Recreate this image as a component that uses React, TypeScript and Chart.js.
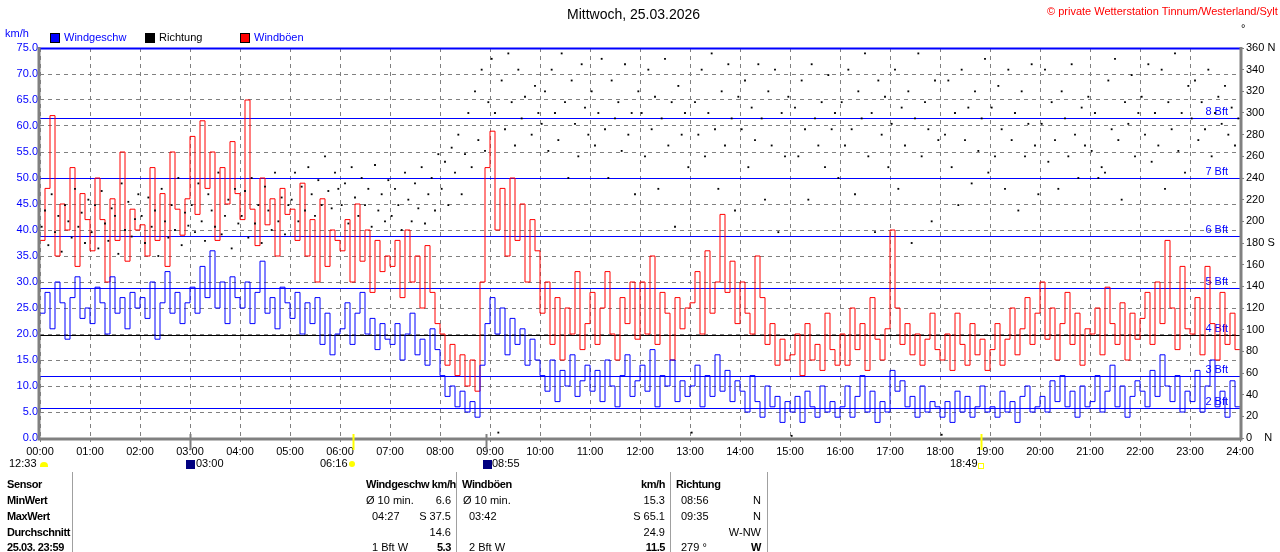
import React, { useEffect, useRef } from "react";
import { Chart, registerables } from "chart.js";
Chart.register(...registerables);

const hourLabels = ["00:00","01:00","02:00","03:00","04:00","05:00","06:00","07:00","08:00","09:00","10:00","11:00","12:00","13:00","14:00","15:00","16:00","17:00","18:00","19:00","20:00","21:00","22:00","23:00","24:00"];

// 10 values per hour (6 min steps)
const windSpeed = [
24,28,21,30,26,19,27,31,23,25, 22,29,26,20,31,24,27,21,28,25, 27,23,30,19,26,32,24,28,22,26,
29,24,33,27,36,25,30,22,31,27, 25,30,22,28,34,24,27,21,29,26, 23,28,20,26,22,27,18,24,16,20,
21,26,18,24,28,20,23,17,22,19, 18,22,15,20,24,16,19,14,21,17, 12,8,10,6,9,5,7,4,14,22,
27,20,25,16,23,18,21,14,19,15, 12,9,15,7,13,10,16,8,11,14, 9,13,7,15,10,6,12,16,8,11,
14,9,17,6,12,10,15,7,11,8, 10,14,6,12,8,16,9,13,7,11, 9,5,12,7,4,10,6,8,3,7,
5,8,3,9,6,4,10,5,7,4, 6,10,4,8,12,5,9,3,7,5, 13,9,11,6,8,4,10,5,7,6,
4,7,3,9,5,8,4,6,10,5, 6,4,9,5,7,3,8,10,5,6, 8,5,11,7,12,6,9,4,10,6,
7,12,5,9,14,6,10,4,8,11, 9,6,13,8,16,10,7,12,5,9, 7,13,5,10,15,6,9,4,11,6];

const windGusts = [
38,48,62,35,45,40,52,33,47,42, 36,50,42,30,46,38,55,34,44,40, 41,35,52,38,47,33,55,44,39,46,
58,43,61,48,55,38,52,45,57,47, 42,65,44,37,50,41,46,35,48,43, 44,38,49,35,42,30,46,33,40,38,
36,42,30,45,34,40,28,38,32,35, 33,38,27,40,30,35,25,37,28,22, 20,14,18,12,16,10,15,9,30,52,
59,40,48,35,50,38,45,30,42,36, 24,30,18,27,15,25,20,32,17,22, 28,18,25,32,20,15,27,22,30,19,
30,20,35,18,28,24,15,27,21,25, 26,32,20,36,24,30,43,28,34,22, 30,24,20,35,27,18,22,14,19,15,
16,20,12,22,15,18,13,24,17,14, 20,14,25,17,22,13,27,19,15,21, 40,25,18,22,16,20,14,19,24,17,
15,20,13,24,18,14,22,16,19,13, 17,22,14,19,25,16,21,27,18,24, 30,19,25,15,22,28,18,24,14,21,
20,25,16,29,22,18,26,15,24,19, 23,28,18,30,22,38,25,17,33,21, 20,27,16,33,22,15,28,18,24,17];

// 15 values per hour (4 min steps), degrees
const direction = [
195,210,178,225,190,205,172,215,200,185,230,195,208,180,220,
190,215,175,228,198,182,212,205,170,235,192,218,186,202,225,
205,180,222,195,210,168,230,200,185,215,192,240,178,208,196,
215,190,235,200,182,225,210,195,245,188,205,220,175,230,198,
205,228,185,240,198,215,180,232,210,192,245,200,222,188,215,
220,245,200,232,210,250,225,205,238,215,260,228,212,245,230,
215,235,198,250,222,205,240,215,230,195,252,210,225,200,238,
205,230,215,192,245,220,200,235,212,250,198,225,240,210,262,
230,255,215,268,245,280,225,262,300,250,320,275,340,265,310,
350,300,5,330,285,355,310,270,340,295,315,360,280,325,300,
290,320,265,340,300,275,355,310,240,330,290,260,345,305,280,
320,270,300,350,285,240,330,295,310,265,345,280,300,225,320,
300,260,340,285,315,230,295,350,270,310,195,325,280,300,250,
5,310,280,340,260,300,355,285,230,320,270,345,295,210,315,
285,330,250,305,275,345,295,220,320,270,340,190,300,260,315,
2,305,260,330,285,220,345,295,270,310,250,335,285,300,240,
310,270,340,285,225,320,295,355,260,300,190,330,280,315,250,
290,340,230,305,270,320,180,295,355,260,310,285,200,330,275,
3,280,330,250,300,215,340,275,305,235,320,265,295,350,245,
305,260,325,285,230,340,275,300,210,320,260,290,345,270,225,
290,340,255,310,275,230,320,295,260,345,280,240,305,270,315,
265,300,240,250,245,330,285,350,275,220,310,290,335,260,300,
315,280,345,255,300,270,340,230,310,285,355,265,300,245,325,
295,330,275,310,285,340,260,300,315,290,325,280,305,270,295];

const bftLevels = [5.8, 12, 19.8, 28.8, 38.8, 50, 61.5];
const bftNames = ["2 Bft","3 Bft","4 Bft","5 Bft","6 Bft","7 Bft","8 Bft"];

const FONT = "'Liberation Sans', Arial, sans-serif";

const bftPlugin = {
  id: "bft",
  beforeDatasetsDraw(chart: any) {
    const { ctx, chartArea: a, scales } = chart;
    const y = scales.y;
    ctx.save();
    ctx.font = `11px ${FONT}`;
    ctx.textAlign = "right";
    bftLevels.forEach((v, i) => {
      const py = Math.round(y.getPixelForValue(v)) + 0.5;
      ctx.strokeStyle = i === 2 ? "#000000" : "#0000ff";
      ctx.lineWidth = 1;
      ctx.beginPath(); ctx.moveTo(a.left, py); ctx.lineTo(a.right, py); ctx.stroke();
      ctx.fillStyle = "#0000ff";
      ctx.fillText(bftNames[i], a.right - 12, py - 4);
    });
    ctx.restore();
  },
  afterDraw(chart: any) {
    const { ctx, chartArea: a } = chart;
    ctx.save();
    ctx.strokeStyle = "#0000ff"; ctx.lineWidth = 2;
    ctx.beginPath(); ctx.moveTo(a.left, a.top + 0.5); ctx.lineTo(a.right, a.top + 0.5); ctx.stroke();
    ctx.strokeStyle = "#808080"; ctx.lineWidth = 3;
    ctx.beginPath(); ctx.moveTo(a.left - 1, a.top - 1); ctx.lineTo(a.left - 1, a.bottom + 1); ctx.lineTo(a.right + 1, a.bottom + 1); ctx.lineTo(a.right + 1, a.top - 1); ctx.stroke();
    const x = chart.scales.x;
    const mark = (m: number, color: string) => {
      const px = Math.round(x.getPixelForValue(m)) + 0.5;
      ctx.strokeStyle = color; ctx.lineWidth = 2;
      ctx.beginPath(); ctx.moveTo(px, a.bottom - 4); ctx.lineTo(px, a.bottom + 12); ctx.stroke();
    };
    mark(376, "#ffff00"); mark(1129, "#ffff00"); mark(180, "#808080"); mark(535, "#808080");
    ctx.restore();
  },
};

const txt = (s: string, left: number, top: number, extra: any = {}) => (
  <div style={{ position: "absolute", left, top, whiteSpace: "nowrap", ...extra }}>{s}</div>
);
const rt = (s: string, right: number, top: number, extra: any = {}) => (
  <div style={{ position: "absolute", left: right - 200, width: 200, top, textAlign: "right", whiteSpace: "nowrap", ...extra }}>{s}</div>
);

export default function App() {
  const ref = useRef<HTMLCanvasElement>(null);
  useEffect(() => {
    document.body.style.margin = "0";
    const windPts = windSpeed.map((v, i) => ({ x: i * 6, y: v }));
    windPts.push({ x: 1440, y: windSpeed[windSpeed.length - 1] });
    const gustPts = windGusts.map((v, i) => ({ x: i * 6, y: v }));
    gustPts.push({ x: 1440, y: windGusts[windGusts.length - 1] });
    const dirPts = direction.map((v, i) => ({ x: i * 4 + 2, y: v }));
    const chart = new Chart(ref.current!, {
      type: "line",
      data: {
        datasets: [
          { data: dirPts, yAxisID: "y2", showLine: false, pointRadius: 1.3, pointStyle: "rect", backgroundColor: "#000", borderColor: "#000", borderWidth: 0, order: 1 } as any,
          { data: windPts, yAxisID: "y", stepped: true, borderColor: "#0000ff", borderWidth: 1, pointRadius: 0, order: 2 } as any,
          { data: gustPts, yAxisID: "y", stepped: true, borderColor: "#ff0000", borderWidth: 1, pointRadius: 0, order: 3 } as any,
        ],
      },
      options: {
        animation: false,
        responsive: false,
        layout: { padding: { top: 48, left: 0, right: 0, bottom: 0 } },
        plugins: { legend: { display: false }, tooltip: { enabled: false } },
        scales: {
          x: {
            type: "linear", min: 0, max: 1440,
            afterFit: (s: any) => { s.height = 114; },
            ticks: { stepSize: 60, autoSkip: false, maxRotation: 0, color: "#000", font: { size: 11, family: FONT }, padding: 3,
              callback: (v: any) => hourLabels[Math.round(v / 60)] },
            grid: { color: "#808080", lineWidth: 1, tickLength: 4 },
            border: { display: false, dash: [4, 4] },
          },
          y: {
            position: "left", min: 0, max: 75,
            afterFit: (s: any) => { s.width = 40; },
            ticks: { stepSize: 5, color: "#0000ff", font: { size: 11, family: FONT }, padding: 2, callback: (v: any) => Number(v).toFixed(1) },
            grid: { color: "#808080", lineWidth: 1, tickLength: 0 },
            border: { display: false, dash: [4, 4] },
          },
          y2: {
            position: "right", min: 0, max: 360,
            afterFit: (s: any) => { s.width = 40; },
            ticks: { stepSize: 20, color: "#000", font: { size: 11, family: FONT }, padding: 2,
              callback: (v: any) => v === 360 ? "360 N" : v === 180 ? "180 S" : v === 0 ? "0    N" : String(v) },
            grid: { drawOnChartArea: false, color: "#808080", tickLength: 4 },
            border: { display: false },
          },
        },
      },
      plugins: [bftPlugin],
    });
    return () => chart.destroy();
  }, []);

  const base: any = { fontFamily: FONT, fontSize: 11, color: "#000" };
  const b = { fontWeight: "bold", letterSpacing: -0.4 };
  const rows = [485, 501, 517, 533, 548];
  return (
    <div style={{ position: "relative", width: 1280, height: 552, background: "#fff", overflow: "hidden", ...base }}>
      <canvas ref={ref} width={1280} height={552} style={{ position: "absolute", left: 0, top: 0 }} />
      {txt("Mittwoch, 25.03.2026", 567, 6, { fontSize: 14 })}
      {txt("© private Wetterstation Tinnum/Westerland/Sylt", 1047, 5, { color: "#ff0000" })}
      {txt("°", 1241, 22)}
      {txt("km/h", 5, 27, { color: "#0000ff" })}
      <div style={{ position: "absolute", left: 50, top: 33, width: 10, height: 10, background: "#0000ff", border: "1px solid #000", boxSizing: "border-box" }} />
      {txt("Windgeschw", 64, 31, { color: "#0000ff" })}
      <div style={{ position: "absolute", left: 145, top: 33, width: 10, height: 10, background: "#000" }} />
      {txt("Richtung", 159, 31)}
      <div style={{ position: "absolute", left: 240, top: 33, width: 10, height: 10, background: "#ff0000", border: "1px solid #000", boxSizing: "border-box" }} />
      {txt("Windböen", 254, 31, { color: "#0000ff" })}
      {txt("12:33", 9, 457)}
      <div style={{ position: "absolute", left: 40, top: 462, width: 8, height: 5, background: "#ffff00", borderRadius: "4px 4px 0 0" }} />
      <div style={{ position: "absolute", left: 186, top: 460, width: 9, height: 9, background: "#000080" }} />
      {txt("03:00", 196, 457)}
      {txt("06:16", 320, 457)}
      <div style={{ position: "absolute", left: 349, top: 461, width: 6, height: 6, background: "#ffff00", borderRadius: 3 }} />
      <div style={{ position: "absolute", left: 483, top: 460, width: 9, height: 9, background: "#000080" }} />
      {txt("08:55", 492, 457)}
      {txt("18:49", 950, 457)}
      <div style={{ position: "absolute", left: 978, top: 463, width: 4, height: 4, border: "1px solid #ffff00" }} />
      <div style={{ position: "absolute", left: 72, top: 472, width: 1, height: 80, background: "#a0a0a0" }} />
      <div style={{ position: "absolute", left: 456, top: 472, width: 1, height: 80, background: "#a0a0a0" }} />
      <div style={{ position: "absolute", left: 670, top: 472, width: 1, height: 80, background: "#a0a0a0" }} />
      <div style={{ position: "absolute", left: 767, top: 472, width: 1, height: 80, background: "#a0a0a0" }} />
      {txt("Sensor", 7, rows[0] - 7, b)}
      {txt("MinWert", 7, rows[1] - 7, b)}
      {txt("MaxWert", 7, rows[2] - 7, b)}
      {txt("Durchschnitt", 7, rows[3] - 7, b)}
      {txt("25.03. 23:59", 7, rows[4] - 7, b)}
      {txt("Windgeschw km/h", 366, rows[0] - 7, b)}
      {txt("Windböen", 462, rows[0] - 7, b)}
      {rt("km/h", 665, rows[0] - 7, b)}
      {txt("Richtung", 676, rows[0] - 7, b)}
      {txt("Ø 10 min.", 366, rows[1] - 7)}
      {rt("6.6", 451, rows[1] - 7)}
      {txt("Ø 10 min.", 463, rows[1] - 7)}
      {rt("15.3", 665, rows[1] - 7)}
      {txt("08:56", 681, rows[1] - 7)}
      {rt("N", 761, rows[1] - 7)}
      {txt("04:27", 372, rows[2] - 7)}
      {rt("S 37.5", 451, rows[2] - 7)}
      {txt("03:42", 469, rows[2] - 7)}
      {rt("S 65.1", 665, rows[2] - 7)}
      {txt("09:35", 681, rows[2] - 7)}
      {rt("N", 761, rows[2] - 7)}
      {rt("14.6", 451, rows[3] - 7)}
      {rt("24.9", 665, rows[3] - 7)}
      {rt("W-NW", 761, rows[3] - 7)}
      {txt("1 Bft W", 372, rows[4] - 7)}
      {rt("5.3", 451, rows[4] - 7, b)}
      {txt("2 Bft W", 469, rows[4] - 7)}
      {rt("11.5", 665, rows[4] - 7, b)}
      {txt("279 °", 681, rows[4] - 7)}
      {rt("W", 761, rows[4] - 7, b)}
    </div>
  );
}
